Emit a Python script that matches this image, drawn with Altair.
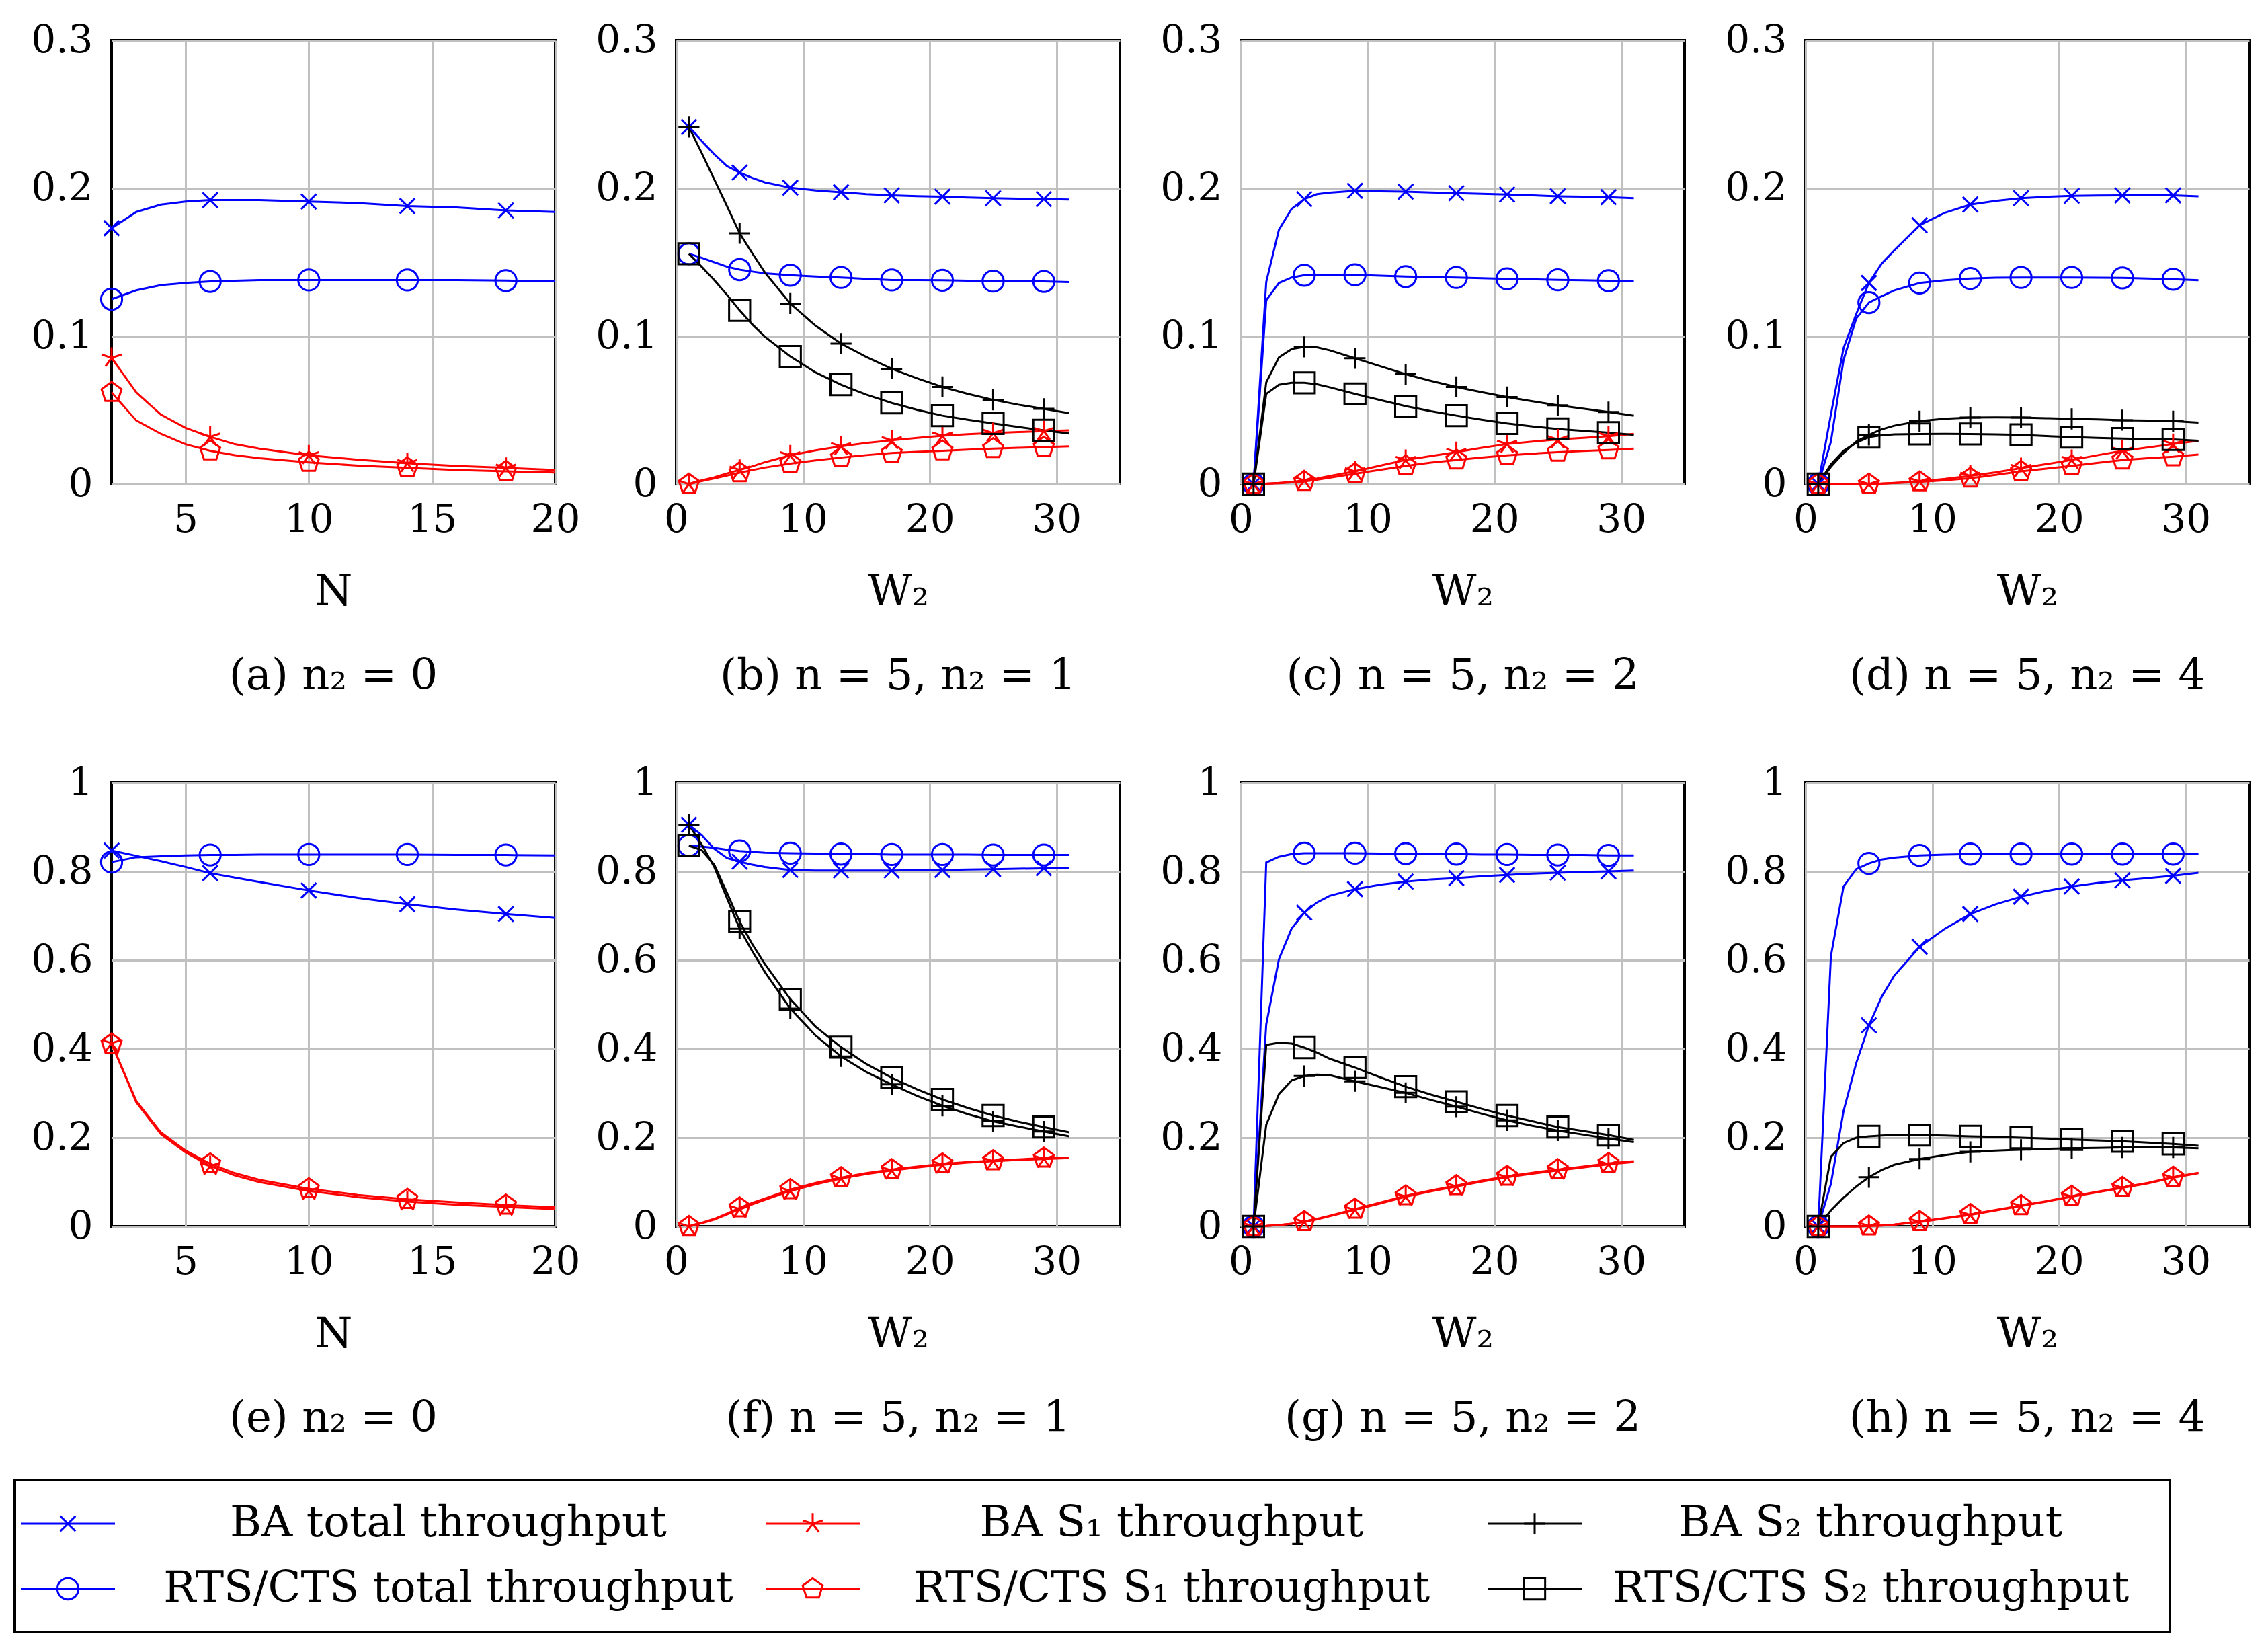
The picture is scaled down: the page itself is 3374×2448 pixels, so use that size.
import altair as alt
import pandas as pd

FONT = "DejaVu Serif"

# ---------------- data ----------------
SERIES = ["BA total throughput", "RTS/CTS total throughput",
          "BA S₁ throughput", "RTS/CTS S₁ throughput",
          "BA S₂ throughput", "RTS/CTS S₂ throughput"]

N_LINE = [2, 3, 4, 5, 6, 7, 8, 10, 12, 14, 16, 18, 20]
N_MARK = [2, 6, 10, 14, 18]
W_LINE = [1, 2, 3, 4, 5, 6, 7, 9, 11, 13, 15, 17, 19, 21, 23, 25, 27, 29, 31]
W_MARK = [1, 5, 9, 13, 17, 21, 25, 29]

# (a) n2 = 0
a_ba_total = [0.173, 0.184, 0.189, 0.191, 0.192, 0.192, 0.192, 0.191, 0.190, 0.188, 0.187, 0.185, 0.184]
a_rts_total = [0.125, 0.131, 0.1345, 0.136, 0.137, 0.1375, 0.138, 0.138, 0.138, 0.138, 0.138, 0.1376, 0.137]
a_ba_s1 = [0.0854, 0.062, 0.047, 0.038, 0.032, 0.027, 0.024, 0.0194, 0.0165, 0.0141, 0.0123, 0.011, 0.0095]
a_rts_s1 = [0.062, 0.043, 0.034, 0.027, 0.0225, 0.0195, 0.0175, 0.0147, 0.0125, 0.011, 0.0096, 0.0086, 0.0078]

# (b) n = 5, n2 = 1
b_ba_total = [0.2414, 0.232, 0.223, 0.215, 0.2106, 0.207, 0.204, 0.2004, 0.1985, 0.1973, 0.196, 0.1952, 0.1947, 0.1943, 0.1938, 0.1933, 0.193, 0.1927, 0.1924]
b_rts_total = [0.1557, 0.153, 0.150, 0.147, 0.145, 0.1437, 0.1425, 0.1412, 0.1403, 0.1397, 0.1388, 0.138, 0.1379, 0.1378, 0.1375, 0.1372, 0.1371, 0.137, 0.1366]
b_ba_s1 = [0.0, 0.0025, 0.0046, 0.0072, 0.0096, 0.012, 0.0148, 0.0194, 0.0228, 0.0256, 0.0278, 0.0296, 0.0312, 0.0327, 0.0337, 0.0345, 0.0352, 0.0358, 0.0364]
b_rts_s1 = [0.0, 0.002, 0.0038, 0.0058, 0.0077, 0.0095, 0.0112, 0.0139, 0.016, 0.0179, 0.0196, 0.021, 0.0218, 0.0225, 0.0233, 0.024, 0.0245, 0.025, 0.0256]
b_ba_s2 = [0.2414, 0.224, 0.206, 0.188, 0.1696, 0.156, 0.143, 0.1221, 0.107, 0.095, 0.086, 0.078, 0.0715, 0.0657, 0.061, 0.057, 0.0537, 0.0509, 0.048]
b_rts_s2 = [0.1557, 0.147, 0.138, 0.128, 0.1175, 0.108, 0.0996, 0.0863, 0.0755, 0.0672, 0.0605, 0.0549, 0.0502, 0.0463, 0.0435, 0.041, 0.0386, 0.0364, 0.0342]

# (c) n = 5, n2 = 2
c_ba_total = [0.0, 0.1366, 0.172, 0.186, 0.1927, 0.196, 0.197, 0.1983, 0.198, 0.1977, 0.1972, 0.1967, 0.1962, 0.1958, 0.1952, 0.1946, 0.1943, 0.194, 0.1933]
c_rts_total = [0.0, 0.1243, 0.136, 0.1397, 0.1412, 0.1415, 0.1415, 0.1415, 0.1409, 0.1403, 0.14, 0.1397, 0.1392, 0.1388, 0.1385, 0.1381, 0.1378, 0.1375, 0.1372]
c_ba_s1 = [0.0, 0.0003, 0.0008, 0.0015, 0.0025, 0.0038, 0.0055, 0.0086, 0.0125, 0.0163, 0.019, 0.0216, 0.0245, 0.0271, 0.0288, 0.0302, 0.0313, 0.0324, 0.034]
c_rts_s1 = [0.0, 0.0002, 0.0006, 0.0011, 0.0018, 0.003, 0.0043, 0.007, 0.0097, 0.0123, 0.0145, 0.0163, 0.018, 0.0194, 0.0206, 0.0216, 0.0224, 0.0231, 0.024]
c_ba_s2 = [0.0, 0.0688, 0.0857, 0.0913, 0.0928, 0.0925, 0.0905, 0.0851, 0.0797, 0.0743, 0.0698, 0.0657, 0.0622, 0.0589, 0.056, 0.0533, 0.051, 0.0487, 0.0463]
c_rts_s2 = [0.0, 0.061, 0.0672, 0.0685, 0.0685, 0.0675, 0.0655, 0.061, 0.0568, 0.0527, 0.0493, 0.0463, 0.0435, 0.041, 0.039, 0.0373, 0.036, 0.0348, 0.0333]

# (d) n = 5, n2 = 4
d_ba_total = [0.0, 0.047, 0.092, 0.115, 0.136, 0.149, 0.158, 0.175, 0.1835, 0.189, 0.1915, 0.1933, 0.1942, 0.1949, 0.1951, 0.1952, 0.1952, 0.1952, 0.1946]
d_rts_total = [0.0, 0.0287, 0.084, 0.112, 0.1227, 0.127, 0.131, 0.136, 0.1378, 0.139, 0.1395, 0.1397, 0.1397, 0.1397, 0.1396, 0.1394, 0.139, 0.1385, 0.1378]
d_ba_s1 = [0.0, 0.0, 0.0, 0.0, 0.0, 0.0003, 0.0008, 0.0018, 0.0035, 0.0056, 0.008, 0.0108, 0.0135, 0.0163, 0.0195, 0.0225, 0.0248, 0.0271, 0.0293]
d_rts_s1 = [0.0, 0.0, 0.0, 0.0, 0.0, 0.0003, 0.0007, 0.0015, 0.0026, 0.004, 0.0062, 0.0086, 0.0105, 0.0123, 0.0143, 0.0163, 0.0175, 0.0185, 0.02]
d_ba_s2 = [0.0, 0.0117, 0.021, 0.0287, 0.0333, 0.037, 0.0395, 0.0426, 0.0442, 0.045, 0.0451, 0.045, 0.0446, 0.0441, 0.0437, 0.0432, 0.0429, 0.0426, 0.0416]
d_rts_s2 = [0.0, 0.0133, 0.0225, 0.028, 0.0318, 0.033, 0.0336, 0.0339, 0.034, 0.0339, 0.0336, 0.0333, 0.0325, 0.0318, 0.0312, 0.0308, 0.0305, 0.0302, 0.0293]

# (e) n2 = 0
e_ba_total = [0.847, 0.835, 0.823, 0.81, 0.796, 0.786, 0.776, 0.757, 0.74, 0.726, 0.714, 0.704, 0.695]
e_rts_total = [0.821, 0.832, 0.834, 0.836, 0.837, 0.837, 0.838, 0.838, 0.838, 0.838, 0.837, 0.837, 0.836]
e_ba_s1 = [0.413, 0.28, 0.208, 0.167, 0.136, 0.115, 0.1, 0.08, 0.066, 0.056, 0.049, 0.044, 0.039]
e_rts_s1 = [0.411, 0.283, 0.212, 0.171, 0.141, 0.12, 0.105, 0.085, 0.071, 0.061, 0.054, 0.048, 0.043]

# (f) n = 5, n2 = 1
f_ba_total = [0.905, 0.882, 0.851, 0.83, 0.822, 0.815, 0.81, 0.803, 0.802, 0.802, 0.802, 0.802, 0.803, 0.803, 0.804, 0.805, 0.806, 0.807, 0.808]
f_rts_total = [0.858, 0.856, 0.853, 0.849, 0.846, 0.844, 0.842, 0.841, 0.84, 0.839, 0.839, 0.838, 0.838, 0.838, 0.838, 0.837, 0.837, 0.837, 0.837]
f_ba_s1 = [0.0, 0.007, 0.0154, 0.027, 0.039, 0.05, 0.06, 0.08, 0.095, 0.108, 0.118, 0.126, 0.133, 0.139, 0.144, 0.147, 0.15, 0.152, 0.154]
f_rts_s1 = [0.0, 0.008, 0.017, 0.029, 0.042, 0.053, 0.063, 0.083, 0.098, 0.11, 0.12, 0.128, 0.135, 0.141, 0.145, 0.148, 0.151, 0.154, 0.155]
f_ba_s2 = [0.905, 0.861, 0.81, 0.74, 0.671, 0.62, 0.573, 0.491, 0.43, 0.383, 0.348, 0.32, 0.294, 0.272, 0.253, 0.237, 0.225, 0.214, 0.203]
f_rts_s2 = [0.858, 0.848, 0.815, 0.752, 0.687, 0.636, 0.591, 0.512, 0.45, 0.404, 0.366, 0.335, 0.309, 0.286, 0.267, 0.25, 0.236, 0.224, 0.212]

# (g) n = 5, n2 = 2
g_ba_total = [0.0, 0.455, 0.602, 0.671, 0.707, 0.73, 0.745, 0.76, 0.77, 0.777, 0.782, 0.785, 0.789, 0.792, 0.795, 0.797, 0.799, 0.8, 0.802]
g_rts_total = [0.0, 0.82, 0.833, 0.839, 0.841, 0.841, 0.841, 0.841, 0.84, 0.84, 0.839, 0.839, 0.838, 0.838, 0.837, 0.837, 0.837, 0.836, 0.836]
g_ba_s1 = [0.0, 0.001, 0.003, 0.006, 0.01, 0.016, 0.023, 0.037, 0.052, 0.067, 0.079, 0.09, 0.101, 0.111, 0.119, 0.126, 0.133, 0.14, 0.145]
g_rts_s1 = [0.0, 0.001, 0.003, 0.006, 0.011, 0.017, 0.024, 0.039, 0.054, 0.069, 0.081, 0.092, 0.103, 0.113, 0.121, 0.128, 0.135, 0.142, 0.147]
g_ba_s2 = [0.0, 0.229, 0.298, 0.329, 0.339, 0.342, 0.341, 0.327, 0.314, 0.301, 0.285, 0.27, 0.254, 0.239, 0.227, 0.216, 0.207, 0.198, 0.19]
g_rts_s2 = [0.0, 0.409, 0.414, 0.412, 0.403, 0.392, 0.378, 0.358, 0.336, 0.315, 0.297, 0.281, 0.265, 0.25, 0.237, 0.224, 0.215, 0.206, 0.195]

# (h) n = 5, n2 = 4
h_ba_total = [0.0, 0.096, 0.26, 0.368, 0.453, 0.517, 0.565, 0.63, 0.671, 0.704, 0.726, 0.743, 0.756, 0.766, 0.774, 0.78, 0.785, 0.79, 0.797]
h_rts_total = [0.0, 0.609, 0.766, 0.805, 0.818, 0.827, 0.831, 0.836, 0.838, 0.839, 0.839, 0.839, 0.839, 0.839, 0.839, 0.839, 0.839, 0.839, 0.839]
h_ba_s1 = [0.0, 0.0, 0.0, 0.0, 0.001, 0.002, 0.004, 0.01, 0.018, 0.026, 0.036, 0.046, 0.056, 0.067, 0.077, 0.087, 0.097, 0.11, 0.12]
h_rts_s1 = [0.0, 0.0, 0.0, 0.0, 0.001, 0.002, 0.004, 0.011, 0.019, 0.027, 0.037, 0.047, 0.057, 0.068, 0.078, 0.088, 0.098, 0.111, 0.121]
h_ba_s2 = [0.0, 0.036, 0.065, 0.09, 0.111, 0.127, 0.139, 0.152, 0.161, 0.168, 0.171, 0.173, 0.175, 0.176, 0.177, 0.178, 0.178, 0.178, 0.176]
h_rts_s2 = [0.0, 0.157, 0.188, 0.2, 0.203, 0.205, 0.206, 0.206, 0.205, 0.203, 0.202, 0.2, 0.198, 0.196, 0.194, 0.192, 0.189, 0.186, 0.182]

CAPTIONS = ["(a) n₂ = 0", "(b) n = 5, n₂ = 1", "(c) n = 5, n₂ = 2", "(d) n = 5, n₂ = 4",
            "(e) n₂ = 0", "(f) n = 5, n₂ = 1", "(g) n = 5, n₂ = 2", "(h) n = 5, n₂ = 4"]

# legend layout categories
LEG_COL = [0, 0, 1, 1, 2, 2]
LEG_ROW = [0, 1, 0, 1, 0, 1]

# ---------------- styles ----------------
COLORS = ["#0000ff", "#0000ff", "#ff0000", "#ff0000", "#000000", "#000000"]
X_PATH = "M-0.72,-0.72L0.72,0.72M-0.72,0.72L0.72,-0.72"
STAR_PATH = ("M0,0L0,-1M0,0L0.951,-0.309M0,0L0.588,0.809"
             "M0,0L-0.588,0.809M0,0L-0.951,-0.309")
PENT_PATH = "M0,-1L0.951,-0.309L0.588,0.809L-0.588,0.809L-0.951,-0.309Z"
PLUS_PATH = "M-1,0L1,0M0,-1L0,1"
SHAPES = [X_PATH, "circle", STAR_PATH, PENT_PATH, PLUS_PATH, "square"]

PW, PH = 660, 660
MSIZE = 980
LW = 3

color_enc = alt.Color("s:N", scale=alt.Scale(domain=SERIES, range=COLORS), legend=None)
shape_enc = alt.Shape("s:N", scale=alt.Scale(domain=SERIES, range=SHAPES), legend=None)


def panel(xs, marks, series, xdom, xticks, ydom, yticks, xtitle, caption):
    rows = []
    for name, vals in series:
        for xv, yv in zip(xs, vals):
            rows.append({"x": xv, "y": yv, "s": name, "m": xv in marks})
    df = pd.DataFrame(rows)
    xe = alt.X("x:Q", scale=alt.Scale(domain=xdom, nice=False, zero=False),
               axis=alt.Axis(values=xticks, title=xtitle, format="d"))
    ye = alt.Y("y:Q", scale=alt.Scale(domain=ydom, nice=False),
               axis=alt.Axis(values=yticks, title=None, format="~g"))
    base = alt.Chart(df)
    lines = base.mark_line(strokeWidth=LW).encode(
        x=xe, y=ye, color=color_enc, detail="s:N", order="x:Q")
    pts = base.transform_filter("datum.m").mark_point(
        filled=False, size=MSIZE, strokeWidth=LW, opacity=1).encode(
        x=xe, y=ye, color=color_enc, shape=shape_enc)
    return alt.layer(lines, pts).properties(
        width=PW, height=PH,
        title=alt.TitleParams(caption, orient="bottom", anchor="middle"))


def series_list(*vals):
    names = SERIES[:len(vals)] if len(vals) == 4 else SERIES
    return list(zip(names, vals))


Y03 = [0, 0.1, 0.2, 0.3]
Y1 = [0, 0.2, 0.4, 0.6, 0.8, 1]
NT = [5, 10, 15, 20]
WT = [0, 10, 20, 30]

panels = [
    panel(N_LINE, N_MARK, series_list(a_ba_total, a_rts_total, a_ba_s1, a_rts_s1),
          [2, 20], NT, [0, 0.3], Y03, "N", CAPTIONS[0]),
    panel(W_LINE, W_MARK, series_list(b_ba_total, b_rts_total, b_ba_s1, b_rts_s1, b_ba_s2, b_rts_s2),
          [0, 35], WT, [0, 0.3], Y03, "W₂", CAPTIONS[1]),
    panel(W_LINE, W_MARK, series_list(c_ba_total, c_rts_total, c_ba_s1, c_rts_s1, c_ba_s2, c_rts_s2),
          [0, 35], WT, [0, 0.3], Y03, "W₂", CAPTIONS[2]),
    panel(W_LINE, W_MARK, series_list(d_ba_total, d_rts_total, d_ba_s1, d_rts_s1, d_ba_s2, d_rts_s2),
          [0, 35], WT, [0, 0.3], Y03, "W₂", CAPTIONS[3]),
    panel(N_LINE, N_MARK, series_list(e_ba_total, e_rts_total, e_ba_s1, e_rts_s1),
          [2, 20], NT, [0, 1], Y1, "N", CAPTIONS[4]),
    panel(W_LINE, W_MARK, series_list(f_ba_total, f_rts_total, f_ba_s1, f_rts_s1, f_ba_s2, f_rts_s2),
          [0, 35], WT, [0, 1], Y1, "W₂", CAPTIONS[5]),
    panel(W_LINE, W_MARK, series_list(g_ba_total, g_rts_total, g_ba_s1, g_rts_s1, g_ba_s2, g_rts_s2),
          [0, 35], WT, [0, 1], Y1, "W₂", CAPTIONS[6]),
    panel(W_LINE, W_MARK, series_list(h_ba_total, h_rts_total, h_ba_s1, h_rts_s1, h_ba_s2, h_rts_s2),
          [0, 35], WT, [0, 1], Y1, "W₂", CAPTIONS[7]),
]

# ---------------- legend (its own cell below column 0; marks overflow to the right) ----------------
leg_df = pd.DataFrame({"s": SERIES, "c": LEG_COL, "r": LEG_ROW})
lx = alt.X("c:Q", scale=alt.Scale(domain=[0, 1, 2], range=[-65, 1043, 2117], nice=False, zero=False), axis=None)
ly = alt.Y("r:Q", scale=alt.Scale(domain=[0, 1], range=[-2, 95], nice=False, zero=False), axis=None)
tx = alt.X("c:Q", scale=alt.Scale(domain=[0, 1, 2], range=[501, 1577, 2617], nice=False, zero=False), axis=None)

box = alt.Chart(alt.Data(values=[{"k": 0}])).mark_rect(
    fillOpacity=0, stroke="black", strokeWidth=4).encode(
    x=alt.value(-144), x2=alt.value(3062), y=alt.value(-67), y2=alt.value(159))
leg_base = alt.Chart(leg_df)
leg_lines = leg_base.mark_rule(strokeWidth=LW, xOffset=-70, x2Offset=70).encode(
    x=lx, x2="c:Q", y=ly, color=color_enc)
leg_pts = leg_base.mark_point(filled=False, size=MSIZE, strokeWidth=LW, opacity=1).encode(
    x=lx, y=ly, color=color_enc, shape=shape_enc)
leg_marks = alt.layer(box, leg_lines, leg_pts)
leg_text = leg_base.mark_text(font=FONT, fontSize=64, align="center", baseline="middle",
                              color="black").encode(x=tx, y=ly, text="s:N")
legend = alt.layer(leg_marks, leg_text).resolve_scale(x="independent").properties(
    width=PW, height=159, view=alt.ViewBackground(strokeOpacity=0))

chart = alt.concat(*panels, legend, columns=4, spacing={"row": 444, "column": 180},
                   bounds="flush").properties(
    padding={"left": 12, "top": 21, "right": 5, "bottom": 5}
).configure_view(
    stroke="black", strokeWidth=4
).configure_axis(
    labelFont=FONT, labelFontSize=58, labelColor="black",
    titleFont=FONT, titleFontSize=64, titleFontWeight="normal", titleColor="black",
    grid=True, gridColor="#c0c0c0", gridWidth=3, domain=False, ticks=False,
    labelFlush=False, labelOverlap=False
).configure_axisX(
    labelPadding=24, titlePadding=46
).configure_axisY(
    labelPadding=28
).configure_title(
    font=FONT, fontSize=64, fontWeight="normal", color="black", offset=62
)

chart.save("out.html", embed_options={"renderer": "svg", "actions": False})
